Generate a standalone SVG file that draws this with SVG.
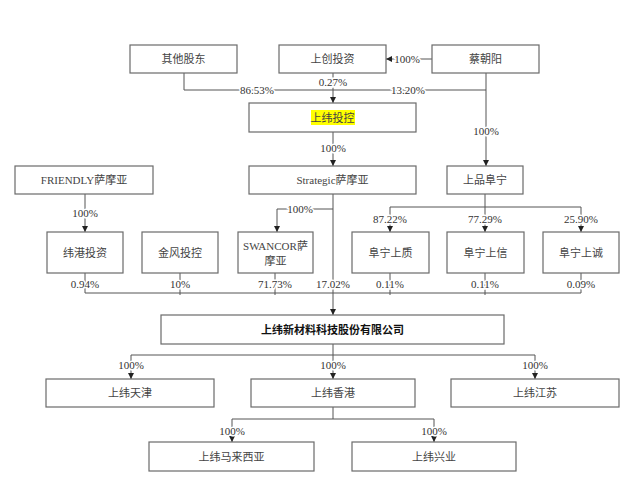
<svg xmlns="http://www.w3.org/2000/svg" width="640" height="478" viewBox="0 0 640 478">
<defs>
<marker id="a" viewBox="0 0 6 6" refX="6" refY="3" markerWidth="6" markerHeight="6" orient="auto" markerUnits="userSpaceOnUse"><path d="M0,0 L6,3 L0,6 z" fill="#222"/></marker>
<style>
.b{fill:#fff;stroke:#6a6a6a;stroke-width:1.2}
.t{font-family:"Liberation Serif","Noto Sans CJK SC",serif;font-size:11px;fill:#444;text-anchor:middle}
.p{font-family:"Liberation Serif","Noto Sans CJK SC",serif;font-size:11px;fill:#333;text-anchor:middle;stroke:#fff;stroke-width:3;paint-order:stroke}
.c path{fill:none;stroke:#555;stroke-width:1}
.m{font-weight:bold;fill:#111}
</style>
</defs>
<rect width="640" height="478" fill="#fff"/>
<g class="c" id="connectors">
<path d="M184,73 V90 H486"/>
<path d="M486,73 V166" marker-end="url(#a)"/>
<path d="M333,73 V103" marker-end="url(#a)"/>
<path d="M432,59 H386" marker-end="url(#a)"/>
<path d="M333,132 V166" marker-end="url(#a)"/>
<path d="M333,194 V315" marker-end="url(#a)"/>
<path d="M333,209 H277 V232" marker-end="url(#a)"/>
<path d="M85,194 V232" marker-end="url(#a)"/>
<path d="M485,194 V232" marker-end="url(#a)"/>
<path d="M485,207 H390 V232" marker-end="url(#a)"/>
<path d="M485,207 H581 V232" marker-end="url(#a)"/>
<path d="M85,273 V293 H581 V273 M180,273 V295 M275,273 V295 M390,273 V295 M485,273 V295"/>
<path d="M333,344 V379" marker-end="url(#a)"/>
<path d="M333,355 H131 V379" marker-end="url(#a)"/>
<path d="M333,355 H535 V379" marker-end="url(#a)"/>
<path d="M333,407 V419"/>
<path d="M333,419 H232 V442" marker-end="url(#a)"/>
<path d="M333,419 H434 V442" marker-end="url(#a)"/>
</g>
<g id="labels">
<text class="p" x="333" y="86">0.27%</text>
<text class="p" x="257" y="94">86.53%</text>
<text class="p" x="408" y="94">13.20%</text>
<text class="p" x="407" y="63">100%</text>
<text class="p" x="486" y="135">100%</text>
<text class="p" x="333" y="152">100%</text>
<text class="p" x="85" y="217">100%</text>
<text class="p" x="300" y="213">100%</text>
<text class="p" x="390" y="223">87.22%</text>
<text class="p" x="485" y="223">77.29%</text>
<text class="p" x="581" y="223">25.90%</text>
<text class="p" x="85" y="288">0.94%</text>
<text class="p" x="180" y="288">10%</text>
<text class="p" x="275" y="288">71.73%</text>
<text class="p" x="333" y="288">17.02%</text>
<text class="p" x="390" y="288">0.11%</text>
<text class="p" x="485" y="288">0.11%</text>
<text class="p" x="581" y="288">0.09%</text>
<text class="p" x="131" y="369">100%</text>
<text class="p" x="333" y="369">100%</text>
<text class="p" x="535" y="369">100%</text>
<text class="p" x="232" y="435">100%</text>
<text class="p" x="434" y="435">100%</text>
</g>
<g id="n-qita"><rect class="b" x="130" y="45" width="107" height="28"/><text class="t" x="183.5" y="63">其他股东</text></g>
<g id="n-shangchuang"><rect class="b" x="279" y="45" width="107" height="28"/><text class="t" x="332.5" y="63">上创投资</text></g>
<g id="n-cai"><rect class="b" x="432" y="45" width="107" height="28"/><text class="t" x="485.5" y="63">蔡朝阳</text></g>
<g id="n-swtk"><rect class="b" x="249" y="103" width="167" height="29"/><rect x="311" y="110" width="44" height="15" fill="#ffff00"/><text class="t" x="332.5" y="121.5">上纬投控</text></g>
<g id="n-strategic"><rect class="b" x="249" y="166" width="167" height="28"/><text class="t" x="332.5" y="184">Strategic萨摩亚</text></g>
<g id="n-shangpin"><rect class="b" x="447" y="166" width="76" height="28"/><text class="t" x="485" y="184">上品阜宁</text></g>
<g id="n-friendly"><rect class="b" x="15" y="166" width="138" height="28"/><text class="t" x="84" y="184">FRIENDLY萨摩亚</text></g>
<g id="n-weigang"><rect class="b" x="47" y="232" width="76" height="41"/><text class="t" x="85" y="256.5">纬港投资</text></g>
<g id="n-jinfeng"><rect class="b" x="142" y="232" width="76" height="41"/><text class="t" x="180" y="256.5">金风投控</text></g>
<g id="n-swancor"><rect class="b" x="238" y="232" width="75" height="41"/><text class="t" x="275.5" y="250">SWANCOR萨</text><text class="t" x="275.5" y="265">摩亚</text></g>
<g id="n-fnsz"><rect class="b" x="352" y="232" width="77" height="41"/><text class="t" x="390.5" y="256.5">阜宁上质</text></g>
<g id="n-fnsx"><rect class="b" x="447" y="232" width="77" height="41"/><text class="t" x="485.5" y="256.5">阜宁上信</text></g>
<g id="n-fnsc"><rect class="b" x="543" y="232" width="76" height="41"/><text class="t" x="581" y="256.5">阜宁上诚</text></g>
<g id="n-main"><rect class="b" x="161" y="315" width="343" height="29"/><text class="t m" x="332.5" y="333.5">上纬新材料科技股份有限公司</text></g>
<g id="n-tianjin"><rect class="b" x="46" y="379" width="168" height="28"/><text class="t" x="130" y="397">上纬天津</text></g>
<g id="n-hk"><rect class="b" x="251" y="379" width="164" height="28"/><text class="t" x="333" y="397">上纬香港</text></g>
<g id="n-jiangsu"><rect class="b" x="451" y="379" width="168" height="28"/><text class="t" x="535" y="397">上纬江苏</text></g>
<g id="n-malaysia"><rect class="b" x="149" y="442" width="165" height="29"/><text class="t" x="231.5" y="460.5">上纬马来西亚</text></g>
<g id="n-xingye"><rect class="b" x="352" y="442" width="164" height="29"/><text class="t" x="434" y="460.5">上纬兴业</text></g>
</svg>
